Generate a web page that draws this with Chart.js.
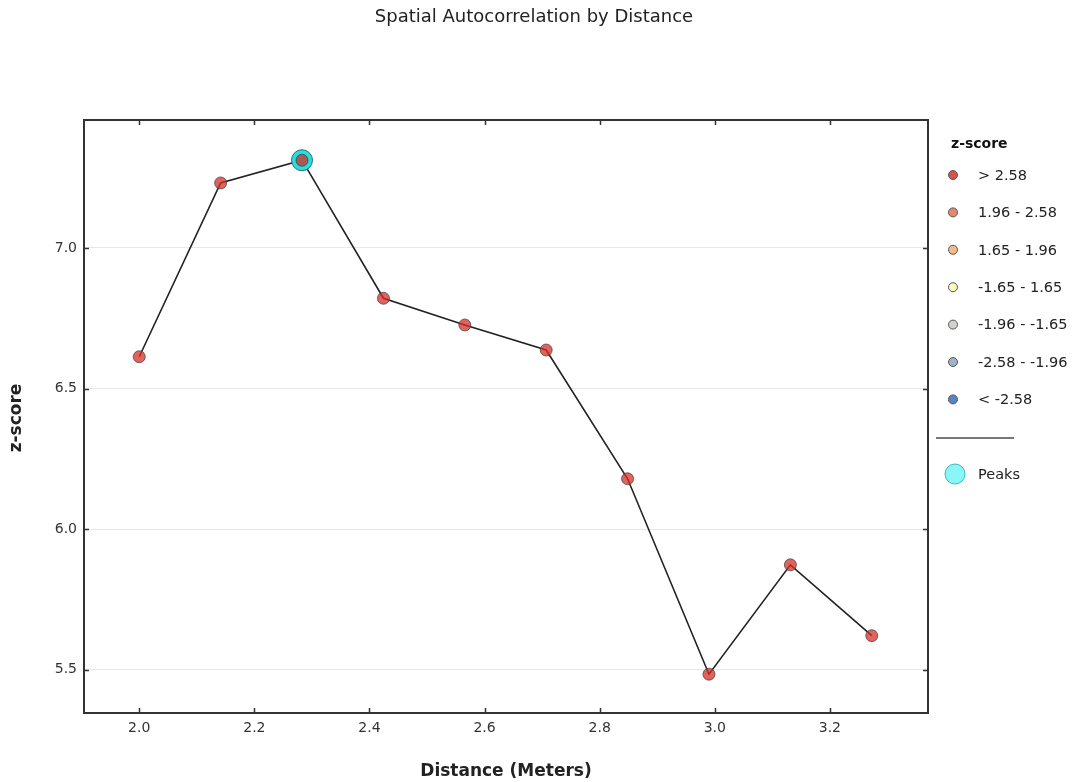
<!DOCTYPE html>
<html>
<head>
<meta charset="utf-8">
<title>Spatial Autocorrelation by Distance</title>
<script src="https://cdn.jsdelivr.net/npm/chart.js@4/dist/chart.umd.min.js"></script>
<style>
  html, body { margin: 0; padding: 0; background: #fff; }
  #chart { display: block; }
</style>
</head>
<body>
<canvas id="chart" width="1074" height="782"></canvas>
<script>
// ==============================
// DATA
// ==============================
const distances = [2.0, 2.1414, 2.2828, 2.4243, 2.5657, 2.7071, 2.8485, 2.9899, 3.1314, 3.2728];
const zScores = [6.613, 7.231, 7.312, 6.821, 6.726, 6.637, 6.179, 5.484, 5.873, 5.621];
const peakDistances = [2.2828];
const peakZScores = [7.312];

const xTickValues = [2.0, 2.2, 2.4, 2.6, 2.8, 3.0, 3.2];
const yTickValues = [5.5, 6.0, 6.5, 7.0];

const legendLabels = ["> 2.58", "1.96 - 2.58", "1.65 - 1.96", "-1.65 - 1.65", "-1.96 - -1.65", "-2.58 - -1.96", "< -2.58"];
const legendColors = ["#d9534f", "#e8866c", "#f5b98c", "#fbfbc0", "#d2d2c8", "#9fb3c8", "#5b83c0"];

const FONT = "'DejaVu Sans', sans-serif";

// ==============================
// DECORATIONS (title, frame, inward ticks, legend)
// ==============================
const decorations = {
  id: "decorations",
  afterDraw(chart) {
    const ctx = chart.ctx;
    const area = chart.chartArea;
    const xs = chart.scales.x, ys = chart.scales.y;
    ctx.save();

    // title
    ctx.fillStyle = "#222";
    ctx.font = "18px " + FONT;
    ctx.textAlign = "center";
    ctx.textBaseline = "middle";
    ctx.fillText("Spatial Autocorrelation by Distance", 534, 17);

    // axis titles
    ctx.font = "bold 17px " + FONT;
    ctx.fillText("Distance (Meters)", (area.left + area.right) / 2, 772);
    ctx.save();
    ctx.translate(17, 418);
    ctx.rotate(-Math.PI / 2);
    ctx.fillText("z-score", 0, 0);
    ctx.restore();

    // frame
    ctx.strokeStyle = "#333";
    ctx.lineWidth = 2;
    ctx.strokeRect(area.left, area.top, area.right - area.left, area.bottom - area.top);

    // inward tick marks
    ctx.lineWidth = 1.5;
    ctx.beginPath();
    xTickValues.forEach(v => {
      const px = Math.round(xs.getPixelForValue(v)) + 0.5;
      ctx.moveTo(px, area.bottom); ctx.lineTo(px, area.bottom - 5);
      ctx.moveTo(px, area.top); ctx.lineTo(px, area.top + 5);
    });
    yTickValues.forEach(v => {
      const py = Math.round(ys.getPixelForValue(v)) + 0.5;
      ctx.moveTo(area.left, py); ctx.lineTo(area.left + 5, py);
      ctx.moveTo(area.right, py); ctx.lineTo(area.right - 5, py);
    });
    ctx.stroke();

    // legend
    ctx.textAlign = "left";
    ctx.fillStyle = "#111";
    ctx.font = "bold 14px " + FONT;
    ctx.fillText("z-score", 951, 144);
    ctx.font = "14.5px " + FONT;
    legendLabels.forEach((label, i) => {
      const y = 175 + i * 37.4;
      ctx.beginPath();
      ctx.arc(953, y, 4.5, 0, Math.PI * 2);
      ctx.fillStyle = legendColors[i];
      ctx.fill();
      ctx.strokeStyle = "#555";
      ctx.lineWidth = 1;
      ctx.stroke();
      ctx.fillStyle = "#222";
      ctx.fillText(label, 978, y + 1);
    });

    ctx.strokeStyle = "#777";
    ctx.lineWidth = 2;
    ctx.beginPath();
    ctx.moveTo(936, 438); ctx.lineTo(1014, 438);
    ctx.stroke();

    ctx.beginPath();
    ctx.arc(955, 474, 10, 0, Math.PI * 2);
    ctx.fillStyle = "#8af7f7";
    ctx.fill();
    ctx.strokeStyle = "#3bbaba";
    ctx.lineWidth = 1;
    ctx.stroke();
    ctx.fillStyle = "#222";
    ctx.fillText("Peaks", 978, 475);

    ctx.restore();
  }
};

// ==============================
// CHART
// ==============================
const toPoints = (xsArr, ysArr) => xsArr.map((x, i) => ({ x, y: ysArr[i] }));

new Chart(document.getElementById("chart").getContext("2d"), {
  type: "scatter",
  data: {
    datasets: [
      {
        // red points, on top
        label: "z-score",
        data: toPoints(distances, zScores),
        showLine: false,
        pointRadius: 6,
        pointBackgroundColor: "rgba(214,47,39,0.75)",
        pointBorderColor: "rgba(60,60,60,0.7)",
        pointBorderWidth: 1,
        order: 0
      },
      {
        label: "Peaks",
        data: toPoints(peakDistances, peakZScores),
        showLine: false,
        pointRadius: 10.5,
        pointBackgroundColor: "#22e0e0",
        pointBorderColor: "#2a6f6f",
        pointBorderWidth: 1,
        order: 1
      },
      {
        label: "line",
        data: toPoints(distances, zScores),
        showLine: true,
        pointRadius: 0,
        borderColor: "#222",
        borderWidth: 1.6,
        tension: 0,
        order: 2
      }
    ]
  },
  options: {
    responsive: false,
    animation: false,
    events: [],
    layout: { padding: { left: 0, right: 146, top: 120, bottom: 0 } },
    plugins: {
      legend: { display: false },
      title: { display: false },
      tooltip: { enabled: false }
    },
    scales: {
      x: {
        type: "linear",
        min: 1.904,
        max: 3.3705,
        afterBuildTicks: s => { s.ticks = xTickValues.map(v => ({ value: v })); },
        afterFit: s => { s.height = 69; },
        grid: { display: false, drawTicks: false },
        border: { display: false },
        ticks: {
          padding: 7,
          color: "#333",
          font: { family: FONT, size: 14 },
          maxRotation: 0,
          callback: v => Number(v).toFixed(1)
        }
      },
      y: {
        type: "linear",
        min: 5.346,
        max: 7.455,
        afterBuildTicks: s => { s.ticks = yTickValues.map(v => ({ value: v })); },
        afterFit: s => { s.width = 84; },
        grid: { color: "#e8e8e8", lineWidth: 1, drawTicks: false },
        border: { display: false },
        ticks: {
          padding: 7,
          color: "#333",
          font: { family: FONT, size: 14 },
          callback: v => Number(v).toFixed(1)
        }
      }
    }
  },
  plugins: [decorations]
});
</script>
</body>
</html>
